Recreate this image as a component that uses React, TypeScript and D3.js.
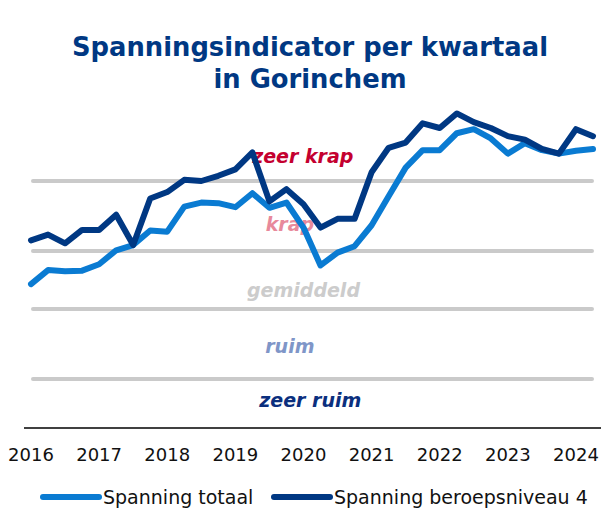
import React from "react";
import * as d3 from "d3";

const quarters: number[] = Array.from({ length: 34 }, (_, i) => 2016 + i / 4);
const totaal: number[] = [
  2.63, 2.87, 2.85, 2.86, 2.97, 3.21, 3.3, 3.55, 3.53, 3.96, 4.03, 4.02, 3.95, 4.19, 3.94, 4.03,
  3.6, 2.95, 3.17, 3.28, 3.64, 4.14, 4.63, 4.93, 4.93, 5.22, 5.29, 5.13, 4.87, 5.05, 4.93, 4.87,
  4.92, 4.95,
];
const niveau4: number[] = [
  3.38, 3.48, 3.33, 3.56, 3.56, 3.82, 3.3, 4.1, 4.21, 4.42, 4.4, 4.49, 4.6, 4.89, 4.05, 4.26,
  4.0, 3.6, 3.75, 3.75, 4.55, 4.97, 5.06, 5.39, 5.31, 5.56, 5.41, 5.31, 5.17, 5.11, 4.95, 4.87,
  5.29, 5.17,
];
const yearTicks: number[] = [2016, 2017, 2018, 2019, 2020, 2021, 2022, 2023, 2024];
const thresholds: number[] = [1.0, 2.2, 3.2, 4.4];
const bandLabels: string[] = ["zeer krap", "krap", "gemiddeld", "ruim", "zeer ruim"];
const bandLabelY: number[] = [4.71, 3.55, 2.41, 1.45, 0.52];
const bandLabelX: number[] = [2019.99, 2019.8, 2020.0, 2019.8, 2020.1];
const bandColors: string[] = ["#c4002f", "#e8899b", "#cccccc", "#7f96c8", "#0b2f7e"];
const seriesNames: string[] = ["Spanning totaal", "Spanning beroepsniveau 4"];
const seriesColors: string[] = ["#0a7bd2", "#003883"];

export default function App() {
  const W = 601;
  const H = 509;
  const x = d3.scaleLinear().domain([2016, 2024.25]).range([31, 593]);
  const y = d3.scaleLinear().domain([1, 4.4]).range([379, 181]);
  const line = d3
    .line<number>()
    .x((_, i) => x(quarters[i]))
    .y((d) => y(d));
  const series = [totaal, niveau4];
  const font = "'DejaVu Sans', Verdana, sans-serif";

  return (
    <svg width={W} height={H} style={{ position: "absolute", left: 0, top: 0 }}>
      <rect width={W} height={H} fill="#ffffff" />
      <text x={310} y={56} textAnchor="middle" fontFamily={font} fontWeight="bold" fontSize={25.8} fill="#003883">
        Spanningsindicator per kwartaal
      </text>
      <text x={310} y={88} textAnchor="middle" fontFamily={font} fontWeight="bold" fontSize={25.8} fill="#003883">
        in Gorinchem
      </text>
      {thresholds.map((t) => (
        <line key={t} x1={33} x2={592} y1={y(t)} y2={y(t)} stroke="#cacaca" strokeWidth={4} strokeLinecap="round" />
      ))}
      {bandLabels.map((lab, i) => (
        <text
          key={lab}
          x={x(bandLabelX[i])}
          y={y(bandLabelY[i])}
          textAnchor="middle"
          fontFamily={font}
          fontWeight="bold"
          fontStyle="italic"
          fontSize={19}
          fill={bandColors[i]}
        >
          {lab}
        </text>
      ))}
      {series.map((s, k) => (
        <path
          key={k}
          d={line(s) || ""}
          fill="none"
          stroke={seriesColors[k]}
          strokeWidth={6}
          strokeLinejoin="round"
          strokeLinecap="round"
        />
      ))}
      <line x1={24} x2={601} y1={428} y2={428} stroke="#000" strokeWidth={1.5} />
      {yearTicks.map((t) => (
        <text key={t} x={x(t)} y={461} textAnchor="middle" fontFamily={font} fontSize={18} fill="#111">
          {t}
        </text>
      ))}
      {seriesNames.map((n, k) => {
        const lx = [43, 274][k];
        return (
          <g key={n}>
            <line x1={lx} x2={lx + 56} y1={497} y2={497} stroke={seriesColors[k]} strokeWidth={6} strokeLinecap="round" />
            <text x={lx + 60} y={504} fontFamily={font} fontSize={19} fill="#111">
              {n}
            </text>
          </g>
        );
      })}
    </svg>
  );
}
